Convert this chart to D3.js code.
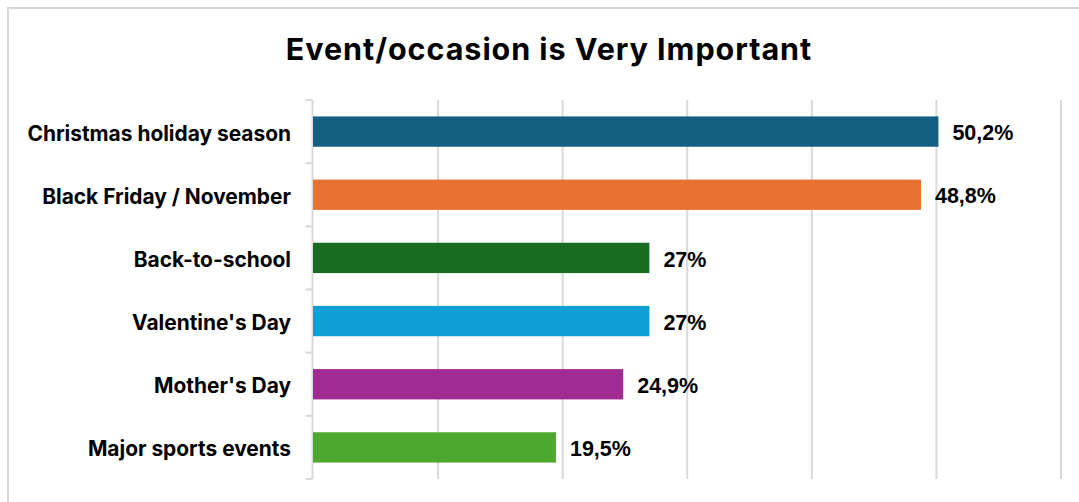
<!DOCTYPE html>
<html>
<head>
<meta charset="utf-8">
<script src="https://cdn.jsdelivr.net/npm/d3@7"></script>
<style>
  html, body { margin: 0; padding: 0; background: #ffffff; overflow: hidden; }
  svg { display: block; }
</style>
</head>
<body>
<svg id="chart" width="1079" height="502"></svg>
<script>
// Share of respondents rating each event/occasion as "Very Important"
const categories = [
  "Christmas holiday season",
  "Black Friday / November",
  "Back-to-school",
  "Valentine's Day",
  "Mother's Day",
  "Major sports events"
];
const values = [50.2, 48.8, 27, 27, 24.9, 19.5];
const valueLabels = ["50,2%", "48,8%", "27%", "27%", "24,9%", "19,5%"];
const barColors = ["#156082", "#E97132", "#196B24", "#0F9ED5", "#A02B93", "#4EA72E"];
const gridTicks = [10, 20, 30, 40, 50, 60];
const titleText = "Event/occasion is Very Important";

const svg = d3.select("#chart");
const W = 1079, H = 502;

// Chart area frame
svg.append("rect")
  .attr("x", 8).attr("y", 8)
  .attr("width", W + 40).attr("height", H + 40)
  .attr("fill", "#ffffff")
  .attr("stroke", "#d9d9d9")
  .attr("stroke-width", 2);

const plot = { left: 313, right: 1060.5, top: 100, bottom: 479 };

const x = d3.scaleLinear().domain([0, 60]).range([plot.left, plot.right]);
const y = d3.scaleBand()
  .domain(categories)
  .range([plot.top, plot.bottom])
  .paddingInner(0.52)
  .paddingOuter(0.26);

// Vertical gridlines
const grid = svg.append("g")
  .attr("transform", `translate(0,${plot.bottom})`)
  .call(d3.axisBottom(x)
    .tickValues(gridTicks)
    .tickSize(-(plot.bottom - plot.top))
    .tickFormat(""));
grid.select(".domain").remove();
grid.selectAll(".tick line")
  .attr("stroke", "#d9d9d9")
  .attr("stroke-width", 2);

// Category axis line with boundary tick marks
const axisX = plot.left - 0.5;
svg.append("line")
  .attr("x1", axisX).attr("x2", axisX)
  .attr("y1", plot.top).attr("y2", plot.bottom)
  .attr("stroke", "#d9d9d9").attr("stroke-width", 2);

const boundaries = categories.map(c => y(c) - y.step() * y.paddingInner() / 2);
boundaries.push(plot.bottom);
svg.append("g").selectAll("line")
  .data(boundaries)
  .join("line")
  .attr("x1", axisX - 7).attr("x2", axisX)
  .attr("y1", d => d).attr("y2", d => d)
  .attr("stroke", "#d9d9d9").attr("stroke-width", 2);

// Bars
svg.append("g").selectAll("rect")
  .data(categories)
  .join("rect")
  .attr("x", x(0))
  .attr("y", c => y(c))
  .attr("width", (c, i) => x(values[i]) - x(0))
  .attr("height", y.bandwidth())
  .attr("fill", (c, i) => barColors[i]);

// Category labels
svg.append("g").selectAll("text")
  .data(categories)
  .join("text")
  .attr("x", plot.left - 22)
  .attr("y", c => y(c) + y.bandwidth() / 2 + 1.5)
  .attr("dy", "0.36em")
  .attr("text-anchor", "end")
  .attr("font-family", "Inter, 'Noto Sans', sans-serif")
  .attr("font-weight", 700)
  .attr("font-size", 20.9)
  .attr("fill", "#000000")
  .text(c => c);

// Value labels
svg.append("g").selectAll("text")
  .data(categories)
  .join("text")
  .attr("x", (c, i) => x(values[i]) + 14)
  .attr("y", c => y(c) + y.bandwidth() / 2 + 1)
  .attr("dy", "0.36em")
  .attr("font-family", "'Liberation Sans', Arial, sans-serif")
  .attr("font-weight", 700)
  .attr("font-size", 21.5)
  .attr("fill", "#000000")
  .text((c, i) => valueLabels[i]);

// Title
svg.append("text")
  .attr("x", 549)
  .attr("y", 60)
  .attr("text-anchor", "middle")
  .attr("font-family", "Inter, 'Noto Sans', sans-serif")
  .attr("font-weight", 700)
  .attr("font-size", 30.5)
  .attr("letter-spacing", 0.95)
  .attr("fill", "#000000")
  .text(titleText);
</script>
</body>
</html>
